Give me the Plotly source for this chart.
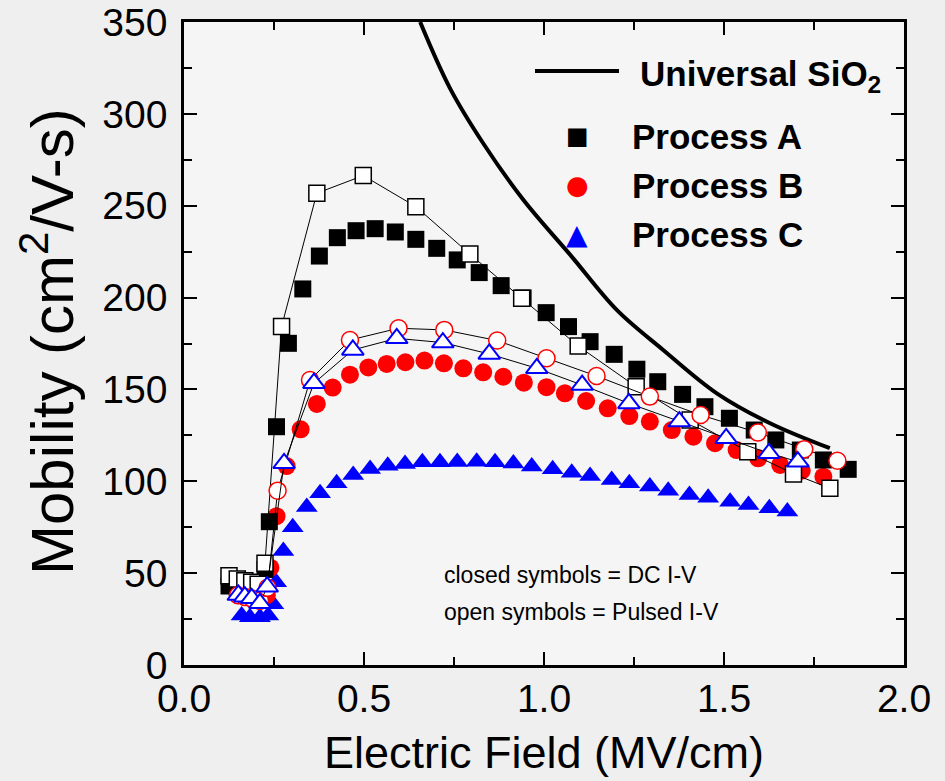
import plotly.graph_objects as go

# ---------------- data ----------------
univ_x = [0.656, 0.739, 0.831, 0.943, 1.077, 1.202, 1.331, 1.480, 1.628, 1.794]
univ_y = [350.0, 313.9, 284.0, 253.1, 222.3, 193.3, 171.5, 147.9, 131.6, 118.0]

a_dc_x = [0.125, 0.148, 0.169, 0.188, 0.206, 0.225, 0.237, 0.257, 0.290, 0.330, 0.376, 0.426,
          0.478, 0.531, 0.587, 0.644, 0.702, 0.759, 0.820, 0.881, 0.942, 1.006, 1.068, 1.128,
          1.195, 1.258, 1.316, 1.385, 1.447, 1.515, 1.584, 1.644, 1.712, 1.776, 1.845]
a_dc_y = [43, 42, 41, 41, 42, 52, 78, 129.7, 175.1, 204.7, 222.6, 232.6,
          236.4, 237.5, 235.7, 231.7, 226.8, 220.5, 213.6, 206.5, 199.8, 191.8, 184.2, 176.0,
          169.1, 161.0, 154.2, 147.3, 140.6, 134.3, 127.9, 122.5, 117.0, 111.6, 106.5]

a_pulse_x = [0.125, 0.148, 0.169, 0.188, 0.206, 0.225, 0.271, 0.369, 0.498, 0.644, 0.794,
             0.938, 1.095, 1.256, 1.406, 1.566, 1.693, 1.794]
a_pulse_y = [48.6, 46.8, 45.9, 45.0, 43.9, 55.4, 184.2, 256.8, 266.4, 249.5, 223.7,
             199.6, 173.6, 151.5, 133.4, 116.1, 104.0, 96.2]

b_dc_x = [0.150, 0.170, 0.190, 0.212, 0.230, 0.240, 0.257, 0.285, 0.324, 0.369, 0.413, 0.461,
          0.512, 0.563, 0.615, 0.668, 0.722, 0.776, 0.831, 0.887, 0.944, 1.007, 1.058, 1.117,
          1.177, 1.237, 1.294, 1.355, 1.415, 1.475, 1.535, 1.595, 1.656, 1.716, 1.776]
b_dc_y = [38, 37, 36, 35, 38, 53, 81, 108.3, 128.3, 142.1, 151.0, 158.0,
          162.0, 163.9, 164.8, 165.7, 164.2, 161.5, 159.3, 156.9, 153.7, 151.2, 147.9, 143.7,
          139.7, 135.5, 132.5, 127.9, 124.3, 120.7, 117.0, 112.5, 108.9, 105.8, 102.5]

b_pulse_x = [0.150, 0.170, 0.190, 0.211, 0.232, 0.260, 0.350, 0.461, 0.596, 0.723, 0.870,
             1.007, 1.146, 1.294, 1.435, 1.594, 1.723, 1.815]
b_pulse_y = [38, 37, 36, 35, 42, 94.9, 155.1, 176.9, 183.3, 182.4, 176.6,
             167.0, 157.3, 146.1, 136.1, 126.5, 117.4, 111.2]

c_dc_x = [0.160, 0.183, 0.211, 0.234, 0.248, 0.256, 0.276, 0.302, 0.341, 0.378, 0.424, 0.470,
          0.517, 0.566, 0.614, 0.662, 0.711, 0.759, 0.813, 0.864, 0.915, 0.966, 1.024, 1.077,
          1.128, 1.188, 1.237, 1.294, 1.345, 1.404, 1.456, 1.517, 1.568, 1.626, 1.676]
c_dc_y = [27, 26, 26, 27, 33, 45, 62, 75, 86, 93.5, 98.9, 103.4,
          106.7, 108.5, 109.4, 110.3, 110.3, 110.5, 110.7, 110.3, 109.7, 108.0, 106.5, 104.7,
          102.9, 100.7, 98.9, 97.1, 94.9, 92.5, 91.1, 88.9, 87.1, 85.3, 83.5]

c_pulse_x = [0.151, 0.169, 0.188, 0.211, 0.231, 0.278, 0.361, 0.469, 0.591, 0.719, 0.848,
             0.980, 1.106, 1.236, 1.376, 1.506, 1.625, 1.705]
c_pulse_y = [38.1, 37.2, 36.3, 33.6, 42.6, 109.8, 153.4, 171.5, 177.8, 175.5, 169.3,
             161.5, 152.4, 142.4, 132.5, 123.4, 115.2, 110.7]

x_ticks = [0.0, 0.5, 1.0, 1.5, 2.0]
y_ticks = [0, 50, 100, 150, 200, 250, 300, 350]

FONT = "Liberation Sans, Arial, sans-serif"

# ---------------- figure ----------------
fig = go.Figure()

fig.add_trace(go.Scatter(x=univ_x, y=univ_y, mode="lines", line=dict(color="black", width=4, shape="spline"),
                         showlegend=False, cliponaxis=True))

fig.add_trace(go.Scatter(x=c_dc_x, y=c_dc_y, mode="markers", showlegend=False,
                         marker=dict(symbol="triangle-up", size=19, color="#0000ff", line=dict(width=0))))
fig.add_trace(go.Scatter(x=b_dc_x, y=b_dc_y, mode="markers", showlegend=False,
                         marker=dict(symbol="circle", size=18, color="#ff0000", line=dict(width=0))))
fig.add_trace(go.Scatter(x=a_dc_x, y=a_dc_y, mode="markers", showlegend=False,
                         marker=dict(symbol="square", size=17, color="black", line=dict(width=0))))

fig.add_trace(go.Scatter(x=a_pulse_x, y=a_pulse_y, mode="lines+markers", showlegend=False,
                         line=dict(color="black", width=1),
                         marker=dict(symbol="square", size=16, color="white", line=dict(width=1.5, color="black"))))
fig.add_trace(go.Scatter(x=b_pulse_x, y=b_pulse_y, mode="lines+markers", showlegend=False,
                         line=dict(color="black", width=1),
                         marker=dict(symbol="circle", size=17, color="white", line=dict(width=1.5, color="#ff0000"))))
fig.add_trace(go.Scatter(x=c_pulse_x, y=c_pulse_y, mode="lines+markers", showlegend=False,
                         line=dict(color="black", width=1),
                         marker=dict(symbol="triangle-up", size=19, color="white", line=dict(width=2, color="#0000ff"))))

L, R, T, B = 184, 41, 22, 116
W, H = 945, 781
PW, PH = W - L - R, H - T - B


def px(xp):
    return (xp - L) / PW


def py(yp):
    return (H - B - yp) / PH


annotations = [
    dict(text="Mobility (cm<sup>2</sup>/V-s)", xref="paper", yref="paper", x=px(48), y=py(342),
         textangle=-90, showarrow=False, font=dict(size=60, color="black", family=FONT),
         xanchor="center", yanchor="middle"),
    dict(text="Electric Field (MV/cm)", xref="paper", yref="paper", x=0.5, y=py(752),
         showarrow=False, font=dict(size=45, color="black", family=FONT),
         xanchor="center", yanchor="middle"),
    dict(text="closed symbols = DC I-V", xref="paper", yref="paper", x=px(442), y=py(575),
         showarrow=False, font=dict(size=23, color="black", family=FONT), xanchor="left", yanchor="middle"),
    dict(text="open symbols = Pulsed I-V", xref="paper", yref="paper", x=px(442), y=py(612),
         showarrow=False, font=dict(size=23, color="black", family=FONT), xanchor="left", yanchor="middle"),
    dict(text="<b>Universal SiO<sub>2</sub></b>", xref="paper", yref="paper", x=px(638), y=py(76),
         showarrow=False, font=dict(size=35, color="black", family=FONT), xanchor="left", yanchor="middle"),
]
legend_items = [("Process A", "■", "black", 136, 24), ("Process B", "●", "#ff0000", 185, 26),
                ("Process C", "▲", "#0000ff", 234, 28)]
for name, glyph, col, yy, gs in legend_items:
    annotations.append(dict(text="<b>%s</b>" % name, xref="paper", yref="paper", x=px(630), y=py(yy),
                            showarrow=False, font=dict(size=35, color="black", family=FONT),
                            xanchor="left", yanchor="middle"))
    annotations.append(dict(text=glyph, xref="paper", yref="paper", x=px(577), y=py(yy),
                            showarrow=False, font=dict(size=gs, color=col, family="DejaVu Sans"),
                            xanchor="center", yanchor="middle"))

axis_common = dict(showline=True, linecolor="black", linewidth=2.5, mirror="ticks",
                   ticks="inside", ticklen=13, tickwidth=2, tickcolor="black",
                   showgrid=False, zeroline=False, automargin=False,
                   tickfont=dict(size=39, color="black", family=FONT))

fig.update_layout(
    width=W, height=H,
    margin=dict(l=L, r=R, t=T, b=B, autoexpand=False),
    paper_bgcolor="#efefef", plot_bgcolor="#f5f5f5",
    showlegend=False,
    xaxis=dict(range=[0, 2], tickvals=x_ticks, ticktext=["%.1f" % v for v in x_ticks],
               minor=dict(dtick=0.25, ticks="inside", ticklen=8, tickwidth=2, tickcolor="black"),
               ticklabelstandoff=-3, **axis_common),
    yaxis=dict(range=[0, 350], tickvals=y_ticks, ticktext=[str(v) for v in y_ticks],
               minor=dict(dtick=25, ticks="inside", ticklen=8, tickwidth=2, tickcolor="black"),
               ticklabelstandoff=6, **axis_common),
    annotations=annotations,
    shapes=[dict(type="line", xref="paper", yref="paper", x0=px(535), x1=px(619), y0=py(71), y1=py(71),
                 line=dict(color="black", width=4))],
)

fig.write_html("out.html")
